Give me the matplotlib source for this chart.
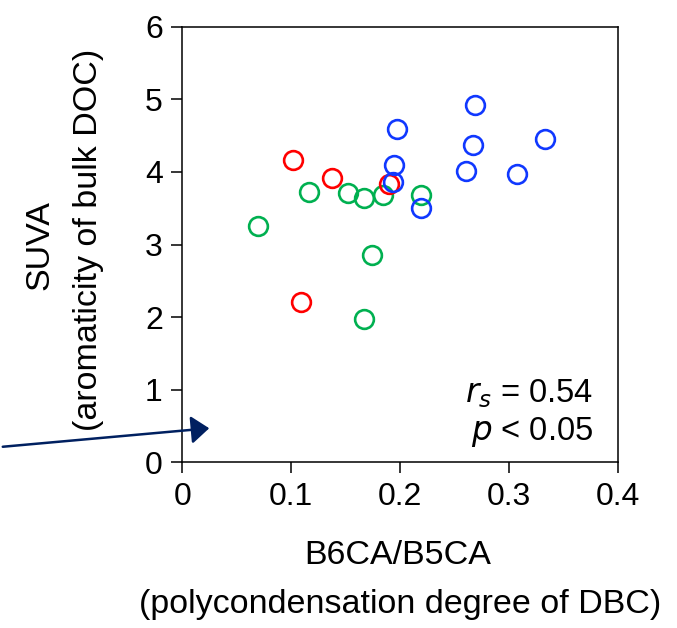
import matplotlib.pyplot as plt

plt.rcParams['font.family'] = ['Liberation Sans', 'DejaVu Sans']

# B6CA/B5CA vs SUVA, three groups of samples
red_x = [0.102, 0.137, 0.190, 0.109]
red_y = [4.16, 3.92, 3.83, 2.21]

green_x = [0.116, 0.152, 0.167, 0.184, 0.0695, 0.174, 0.167, 0.219]
green_y = [3.73, 3.71, 3.64, 3.68, 3.26, 2.85, 1.98, 3.68]

blue_x = [0.197, 0.194, 0.193, 0.269, 0.333, 0.267, 0.260, 0.307, 0.219]
blue_y = [4.59, 4.10, 3.86, 4.92, 4.45, 4.37, 4.01, 3.97, 3.51]

xticks = [0, 0.1, 0.2, 0.3, 0.4]
xticklabels = ['0', '0.1', '0.2', '0.3', '0.4']
yticks = [0, 1, 2, 3, 4, 5, 6]

fig = plt.figure(figsize=(6.77, 6.28), dpi=100)
ax = fig.add_axes([0.2693, 0.2637, 0.6436, 0.6938])

ms = 13.5
mew = 1.9
ax.plot(green_x, green_y, 'o', ms=ms, mfc='none', mec='#00B050', mew=mew)
ax.plot(red_x, red_y, 'o', ms=ms, mfc='none', mec='#FF0000', mew=mew)
ax.plot(blue_x, blue_y, 'o', ms=ms, mfc='none', mec='#1038FF', mew=mew)

ax.set_xlim(0, 0.4)
ax.set_ylim(0, 6)
ax.set_xticks(xticks)
ax.set_xticklabels(xticklabels)
ax.set_yticks(yticks)
ax.tick_params(direction='out', length=8, width=1.1, labelsize=23, pad=6)
for s in ax.spines.values():
    s.set_linewidth(1.1)

ax.text(0.377, 0.95, r'$r_s$ = 0.54', fontsize=23.5, ha='right', va='center')
ax.text(0.377, 0.42, r'$p$ < 0.05', fontsize=23.5, ha='right', va='center')

# x axis label, two lines
fig.text(0.588, 0.1155, 'B6CA/B5CA', fontsize=24.5, ha='center', va='center')
fig.text(0.591, 0.037, '(polycondensation degree of DBC)', fontsize=24.5,
         ha='center', va='center')

# y axis label, two lines
fig.text(0.059, 0.61, 'SUVA', fontsize=24.5, ha='center', va='center', rotation=90)
fig.text(0.130, 0.618, '(aromaticity of bulk DOC)', fontsize=24.5,
         ha='center', va='center', rotation=90)

# arrow coming from the left edge
ax.annotate('', xy=(212 / 677, 1 - 428 / 628), xytext=(0, 1 - 447 / 628),
            xycoords='figure fraction', textcoords='figure fraction',
            arrowprops=dict(arrowstyle='-|>,head_length=1.1,head_width=0.85',
                            color='#002060', lw=1.8),
            annotation_clip=False)

fig.savefig('out.png', dpi=100)
